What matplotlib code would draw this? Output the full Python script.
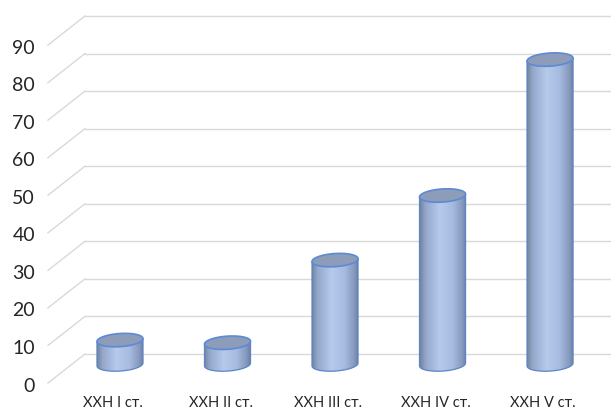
import numpy as np
import matplotlib.pyplot as plt
from matplotlib.patches import Polygon
from matplotlib.colors import LinearSegmentedColormap

plt.rcParams['font.family'] = ['Lato', 'Noto Sans', 'DejaVu Sans']

# data
categories = ['ХХН I ст.', 'ХХН II ст.', 'ХХН III ст.', 'ХХН IV ст.', 'ХХН V ст.']
values = [6.5, 5.8, 27.8, 45.0, 81.2]
yticks = list(range(0, 100, 10))

# pseudo 3d geometry (data units: x = category, y = value on bar plane)
w = 0.214          # half width of a cylinder
h = 1.75           # half height of the ellipses
shear = 1.8        # slight tilt of the ellipses
back_dy = 2.8      # back wall offset
front_dy = -4.93   # front edge offset
x_back = -0.326
x_front = -0.670

text_col = '#262626'
grid_col = '#d9d9d9'

fig = plt.figure(figsize=(6.11, 4.12), dpi=100)
ax = fig.add_axes([0, 0, 1, 1])
ax.set_xlim(-1.116, 4.567)
ax.set_ylim(-12.65, 97.07)
ax.axis('off')

# back wall gridlines + floor diagonals
for v in yticks:
    ax.plot([x_back, 4.567], [v + back_dy, v + back_dy], color=grid_col, lw=1, zorder=1)
    ax.plot([x_front, x_back], [v + front_dy, v + back_dy], color=grid_col, lw=1, zorder=1)
    ax.text(-0.791, v - 7.2, str(v), ha='right', va='baseline', fontsize=14, color=text_col)

cmap = LinearSegmentedColormap.from_list('cyl', [
    (0.0, '#72859f'), (0.12, '#94a8cc'), (0.42, '#b6caec'),
    (0.7, '#a6bbdf'), (0.9, '#8699be'), (1.0, '#6c7fa2')])
grad = np.linspace(0, 1, 200).reshape(1, -1)

for i, (cat, v) in enumerate(zip(categories, values)):
    cx = i
    t_low = np.linspace(np.pi, 2 * np.pi, 60)
    xs = cx + w * np.cos(t_low)
    ys = h * np.sin(t_low) + shear * (xs - cx)
    verts = [(cx - w, v - shear * w)] + list(zip(xs, ys)) + [(cx + w, v + shear * w)]
    body = Polygon(verts, closed=True, facecolor='none', edgecolor='#5d84c4', lw=0.9, zorder=4)
    ax.add_patch(body)
    im = ax.imshow(grad, cmap=cmap, aspect='auto', zorder=3,
                   extent=(cx - w, cx + w, -h - shear * w - 0.5, v + h + shear * w + 0.5))
    im.set_clip_path(body)

    # top face
    t = np.linspace(0, 2 * np.pi, 120)
    ex = cx + w * np.cos(t)
    ey = v + h * np.sin(t) + shear * (ex - cx)
    ax.add_patch(Polygon(list(zip(ex, ey)), closed=True, facecolor='#8d9cb8',
                         edgecolor='#5b8ad6', lw=1.2, zorder=5))

    ax.text(cx - 0.065, -10.25, cat, ha='center', va='center', fontsize=10.5, color=text_col)

fig.savefig('out.png', dpi=100)
